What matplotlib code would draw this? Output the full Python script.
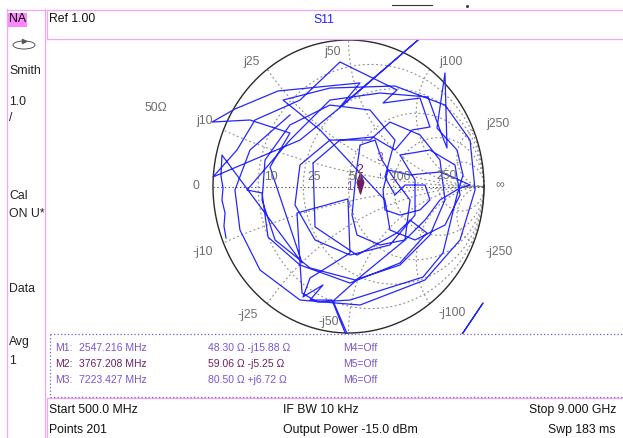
import numpy as np
import matplotlib.pyplot as plt
import matplotlib.transforms as mtransforms
from matplotlib.lines import Line2D
from matplotlib.patches import Ellipse, Rectangle

plt.rcParams['font.family'] = ['Liberation Sans', 'DejaVu Sans']

W, H = 623, 438
Z0 = 50.0

gamma_re = [-0.904, -0.919, -0.911, -0.934, -0.926, -0.941, -0.934, -0.343, -0.579, -0.432,
            -0.727, -1.007, -0.838, -0.520, 0.085, -0.063, 0.616, -0.048, -0.358, -1.000,
            -0.823, -0.690, -0.358, -0.063, 0.358, 0.255, 0.528, 0.601, 0.469, 0.343,
            0.181, -0.063, -0.262, -0.247, 0.063, 0.358, 0.454, 0.579, 0.380, 0.011,
            -0.358, -0.594, -0.638, -0.749, -0.432, -0.137, 0.232, 0.587, 0.675, 0.727,
            0.712, 0.653, 0.801, 0.845, 0.801, 0.697, 0.550, 0.011, -0.232, -0.343,
            -0.358, -0.380, -0.004, 0.011, -0.284, -0.336, -0.188, -0.284, -0.122, 0.011,
            0.749, 0.993, 0.786, 0.026, -0.114, 0.085, 0.417, 0.454, 0.343, 0.247,
            0.196, 0.085, 0.055, 0.026, 0.063, 0.232, 0.417, 0.565, 0.675, 0.823,
            0.897, 0.786, 0.675, 0.454, 0.292, 0.255, 0.269, 0.380, 0.528, 0.601,
            0.565, 0.417, 0.343, 0.269, 0.343, 0.159, -0.137, -0.432, -0.616, -0.638,
            -0.542, -0.284, 0.048, 0.380, 0.601, 0.712, 0.675, 0.528, 0.306, 0.159,
            -0.137, -0.358, -0.395, -0.247, 0.011, 0.306, 0.491, 0.491, 0.380, 0.601,
            0.786, 0.823, 0.712, 0.491, 0.306, 0.269, -0.210, -0.483, -0.137, 0.343,
            0.712, 0.897, 0.934, 0.823, 0.565, 0.085, -0.358, -0.653, -0.801, -0.838,
            -0.727, -0.432]
gamma_im = [-0.352, -0.270, -0.181, -0.092, -0.010, 0.072, 0.215, -0.522, 0.133, 0.365,
            0.454, 0.440, 0.529, 0.652, 0.707, 0.543, 1.082, 0.550, 0.317, 0.065,
            0.249, 0.454, 0.590, 0.850, 0.659, 0.570, 0.604, 0.406, 0.386, 0.249,
            0.338, 0.317, 0.160, -0.276, -0.468, -0.317, -0.229, -0.317, -0.522, -0.659,
            -0.536, -0.345, -0.044, -0.024, 0.317, 0.590, 0.638, 0.611, 0.386, 0.263,
            0.775, 0.399, 0.249, 0.079, -0.058, -0.454, -0.618, -0.775, -0.788, -0.727,
            -0.522, -0.181, -0.085, -0.454, -0.625, -0.754, -0.672, -0.775, -0.775, -1.082,
            -1.130, -0.795, -1.082, -1.082, -0.782, -0.618, -0.365, -0.092, 0.044, 0.181,
            0.317, 0.283, 0.079, -0.195, -0.331, -0.399, -0.365, -0.229, -0.092, -0.010,
            0.010, 0.058, 0.099, 0.079, 0.113, -0.024, -0.160, -0.195, -0.160, -0.092,
            0.010, 0.010, -0.058, 0.065, 0.317, 0.522, 0.556, 0.420, 0.181, -0.092,
            -0.365, -0.556, -0.638, -0.536, -0.331, -0.092, 0.181, 0.352, 0.440, 0.317,
            0.317, 0.147, -0.126, -0.365, -0.468, -0.399, -0.195, 0.044, 0.215, 0.249,
            0.147, -0.058, -0.263, -0.365, -0.297, -0.092, 0.386, 0.590, 0.672, 0.686,
            0.556, 0.317, -0.024, -0.365, -0.638, -0.809, -0.775, -0.570, -0.297, -0.024,
            0.249, 0.488]

marker_names = ['M1:', 'M2:', 'M3:']
marker_freq = ['2547.216 MHz', '3767.208 MHz', '7223.427 MHz']
marker_r = [48.30, 59.06, 80.50]
marker_x = [-15.88, -5.25, 6.72]
marker_vals = ['48.30 Ω -j15.88 Ω', '59.06 Ω -j5.25 Ω', '80.50 Ω +j6.72 Ω']
off_markers = ['M4=Off', 'M5=Off', 'M6=Off']

grid_r = [10, 25, 50, 100, 250]
grid_x = [10, 25, 50, 100, 250]

left_labels = [('Smith', 71), ('1.0', 102), ('/', 118), ('Cal', 196), ('ON U*', 214),
               ('Data', 289), ('Avg', 342), ('1', 361)]

PINK = '#f2a6f2'
VIOLET = '#7b52d6'
DARKPURPLE = '#6e1f66'
GRAY = '#6e6e6e'
FS = 8.8


def fx(x):
    return x / W


def fy(y):
    return 1 - y / H


def hline(x0, x1, y, **kw):
    fig.add_artist(Line2D([fx(x0), fx(x1)], [fy(y), fy(y)], **kw))


def vline(x, y0, y1, **kw):
    fig.add_artist(Line2D([fx(x), fx(x)], [fy(y0), fy(y1)], **kw))


fig = plt.figure(figsize=(W / 100, H / 100), dpi=100)

# smith chart area
cx, cy, rx, ry = 348.5, 186.5, 135.5, 146.5
top, bot = 39.5, 333.5
ax = fig.add_axes([fx(46), fy(bot), fx(623) - fx(46), fy(top) - fy(bot)])
ax.set_xlim((46 - cx) / rx, (623 - cx) / rx)
ax.set_ylim((cy - bot) / ry, (cy - top) / ry)
ax.axis('off')

t = np.linspace(0, 2 * np.pi, 1441)
grid_style = dict(color='#8a8a8a', lw=0.8, ls=(0, (1.6, 2.4)))
for r in grid_r:
    rn = r / Z0
    c, rad = rn / (1 + rn), 1 / (1 + rn)
    ax.plot(c + rad * np.cos(t), rad * np.sin(t), **grid_style)
for x in grid_x:
    xn = x / Z0
    for s in (1, -1):
        px = 1 + np.cos(t) / xn
        py = s / xn + np.sin(t) / xn
        mask = px ** 2 + py ** 2 > 1.0
        px[mask] = np.nan
        py[mask] = np.nan
        ax.plot(px, py, **grid_style)
ax.plot([-1, 1], [0, 0], color='#505050', lw=0.8, ls=(0, (1.2, 2.2)))
ax.plot(np.cos(t), np.sin(t), color='#2a2a2a', lw=1.0, clip_on=False)

ax.plot(gamma_re, gamma_im, color='#2626ff', lw=0.9)

# markers
z = (np.array(marker_r) + 1j * np.array(marker_x)) / Z0
g = (z - 1) / (z + 1)
mcolors = [VIOLET, DARKPURPLE, VIOLET]
for i, gi in enumerate(g):
    lab = str(i + 1)
    if i == 1:
        tr = mtransforms.offset_copy(ax.transData, fig=fig, x=0, y=10, units='dots')
        ax.plot(gi.real, gi.imag, marker=[(0, 1), (0.32, 0.1), (0, -1), (-0.32, 0.1), (0, 1)],
                ms=15, color=DARKPURPLE, mec=DARKPURPLE, transform=tr, zorder=5)
        ax.annotate(lab, (gi.real, gi.imag), xytext=(0, 23), textcoords='offset pixels',
                    ha='center', va='center', color=mcolors[i], fontsize=FS)
    else:
        ax.annotate(lab, (gi.real, gi.imag), xytext=(0, 23), textcoords='offset pixels',
                    ha='center', va='center', color=mcolors[i], fontsize=FS,
                    arrowprops=dict(arrowstyle='-', ls=(0, (2, 1.5)), color=mcolors[i],
                                    lw=0.8, shrinkA=5, shrinkB=2))

# chart labels
chart_labels = [('j10', 204, 121), ('j25', 251, 62), ('j50', 332, 52), ('j100', 451, 62),
                ('j250', 498, 124), ('∞', 500, 185), ('-j250', 499, 252), ('-j100', 452, 313),
                ('-j50', 329, 322), ('-j25', 248, 315), ('-j10', 203, 252), ('0', 196, 186),
                ('50Ω', 156, 108), ('10', 271, 177), ('25', 314, 177), ('50', 355, 177),
                ('100', 400, 177), ('250', 447, 176)]
for s, x, y in chart_labels:
    fig.text(fx(x), fy(y), s, ha='center', va='center', color=GRAY, fontsize=FS)

# frames
pk = dict(color=PINK, lw=0.9)
vline(7, 9, 438, **pk)
vline(45, 9, 438, **pk)
hline(7, 45, 9.5, **pk)
hline(47, 623, 9.5, **pk)
hline(47, 623, 39, **pk)
vline(47, 9.5, 39, **pk)
hline(47, 623, 398, **pk)
vline(47, 398, 438, **pk)

dot = dict(color='#7a5ae0', lw=0.9, ls=(0, (1, 1.8)))
hline(50, 623, 334, **dot)
hline(50, 623, 397, **dot)
vline(50, 334, 397, **dot)

hline(392, 432, 5, color='#333333', lw=0.8)
fig.add_artist(Line2D([fx(467)], [fy(6)], marker='s', ms=1, color='#333333'))

# left panel
fig.add_artist(Rectangle((fx(8), fy(27)), fx(27) - fx(8), fy(13) - fy(27),
                         transform=fig.transFigure, color='#ff86ff', lw=0))
fig.text(fx(9), fy(19.5), 'NA', ha='left', va='center', fontsize=FS)
fig.add_artist(Ellipse((fx(24), fy(45)), 22 / W, 8 / H, transform=fig.transFigure,
                       fill=False, ec='#555555', lw=0.7))
fig.add_artist(Line2D([fx(24)], [fy(41)], marker='>', ms=3, color='#555555'))
for s, y in left_labels:
    fig.text(fx(9), fy(y), s, ha='left', va='center', fontsize=FS, color='#222222')

# header
fig.text(fx(49), fy(19.5), 'Ref 1.00', ha='left', va='center', fontsize=FS, color='#111111')
fig.text(fx(313), fy(20), 'S11', ha='left', va='center', fontsize=FS, color='#2020ff')

# marker table
rows_y = [348, 364, 380]
for i, y in enumerate(rows_y):
    c = mcolors[i]
    fig.text(fx(55), fy(y), marker_names[i], ha='left', va='center', fontsize=7.5, color=c)
    fig.text(fx(79), fy(y), marker_freq[i], ha='left', va='center', fontsize=7.5, color=c)
    fig.text(fx(208), fy(y), marker_vals[i], ha='left', va='center', fontsize=7.5, color=c)
    fig.text(fx(343), fy(y), off_markers[i], ha='left', va='center', fontsize=7.5, color=VIOLET)

# footer
foot = dict(va='center', fontsize=FS, color='#111111')
fig.text(fx(49), fy(410), 'Start 500.0 MHz', ha='left', **foot)
fig.text(fx(49), fy(430), 'Points 201', ha='left', **foot)
fig.text(fx(283), fy(410), 'IF BW 10 kHz', ha='left', **foot)
fig.text(fx(283), fy(430), 'Output Power -15.0 dBm', ha='left', **foot)
fig.text(fx(616), fy(410), 'Stop 9.000 GHz', ha='right', **foot)
fig.text(fx(616), fy(430), 'Swp 183 ms', ha='right', **foot)

fig.savefig('out.png', dpi=100, facecolor='white')
